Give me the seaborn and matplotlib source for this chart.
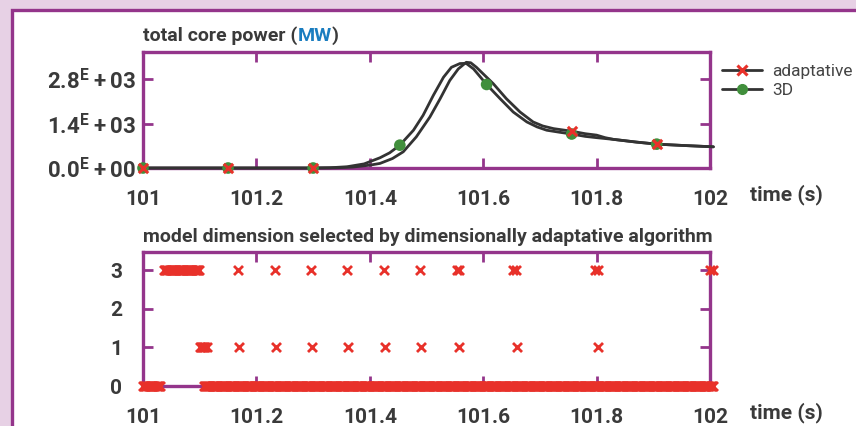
import numpy as np
import pandas as pd
import matplotlib
matplotlib.use("Agg")
import matplotlib.pyplot as plt
import seaborn as sns
from matplotlib.lines import Line2D
from matplotlib.patches import Rectangle
from matplotlib.offsetbox import TextArea, HPacker, AnchoredOffsetbox

# power curves (time in s, power in MW)
t_3d = [101.0, 101.15, 101.3, 101.33, 101.36, 101.39, 101.418, 101.435, 101.453, 101.477,
        101.494, 101.512, 101.530, 101.544, 101.559, 101.570, 101.583, 101.594, 101.606,
        101.630, 101.653, 101.677, 101.695, 101.712, 101.735, 101.756, 101.78, 101.80,
        101.83, 101.87, 101.906, 101.95, 102.006]
p_3d = [0, 0, 0, 8, 40, 130, 324, 480, 723, 1195,
        1667, 2296, 2872, 3187, 3305, 3310, 3134, 2900, 2643,
        2190, 1771, 1457, 1300, 1195, 1130, 1075, 1000, 960,
        905, 820, 755, 715, 670]

t_adapt = [101.0, 101.15, 101.3, 101.34, 101.37, 101.40, 101.418, 101.44, 101.459, 101.482,
           101.506, 101.524, 101.541, 101.556, 101.570, 101.578, 101.588, 101.594, 101.618,
           101.641, 101.665, 101.688, 101.705, 101.724, 101.756, 101.78, 101.80, 101.815,
           101.83, 101.87, 101.906, 101.95, 102.006]
p_adapt = [0, 0, 0, 6, 30, 90, 145, 300, 513, 985,
           1614, 2190, 2768, 3134, 3344, 3330, 3187, 3083, 2663,
           2190, 1771, 1457, 1330, 1246, 1164, 1085, 1040, 960,
           905, 820, 755, 715, 670]

mark_3d = [101.0, 101.15, 101.3, 101.453, 101.606, 101.756, 101.906]
mark_adapt = [101.0, 101.15, 101.3, 101.756, 101.906]

# dimension selected: dense runs (start, end, dim) on the time-step grid, plus isolated steps
dt = 0.002
runs = [(101.000, 101.030, 0), (101.037, 101.100, 3), (101.100, 101.112, 1), (101.107, 102.005, 0)]
spikes_3 = [101.168, 101.233, 101.296, 101.359, 101.425, 101.489, 101.553, 101.558,
            101.653, 101.658, 101.797, 101.802, 102.000, 102.005]
spikes_1 = [101.170, 101.235, 101.298, 101.362, 101.426, 101.490, 101.558, 101.659, 101.803]

x_ticks = [101, 101.2, 101.4, 101.6, 101.8, 102]
x_labels = ["101", "101.2", "101.4", "101.6", "101.8", "102"]
p_ticks = [0, 1400, 2800]
p_labels = ["0.0$^{\\mathrm{E}}$\u2009+\u200900", "1.4$^{\\mathrm{E}}$\u2009+\u200903",
            "2.8$^{\\mathrm{E}}$\u2009+\u200903"]
d_ticks = [0, 1, 2, 3]

PURPLE = "#94358b"
LAVENDER = "#e7d1e5"
TXT = "#3a3a3a"
LINE = "#333333"
RED = "#e8312a"
GREEN = "#418f3c"
BLUE = "#1a7dc0"

sns.set_style("white")
plt.rcParams["font.family"] = ["Roboto", "DejaVu Sans"]
plt.rcParams["font.weight"] = "bold"
plt.rcParams["mathtext.fontset"] = "custom"
plt.rcParams["mathtext.rm"] = "Roboto:bold"
plt.rcParams["mathtext.it"] = "Roboto:bold"
plt.rcParams["mathtext.bf"] = "Roboto:bold"

fig = plt.figure(figsize=(8.56, 4.26), dpi=100, facecolor=LAVENDER)
# white panel with purple border, running off the right and bottom edges
fig.patches.append(Rectangle((11.5 / 856, -0.2), 1.2, 0.2 + (426 - 9.5) / 426,
                             transform=fig.transFigure, facecolor="white",
                             edgecolor=PURPLE, lw=2.4, zorder=-10))

ax1 = fig.add_axes([143 / 856, 1 - 168 / 426, 567 / 856, 116 / 426])
ax2 = fig.add_axes([143 / 856, 1 - 386 / 426, 567 / 856, 134 / 426])


def style_axes(ax, ypad):
    for s in ax.spines.values():
        s.set_visible(True)
        s.set_color(PURPLE)
        s.set_linewidth(2.4)
    ax.set_facecolor("white")
    ax.tick_params(axis="both", which="major", direction="in", length=7, width=2,
                   color=PURPLE, labelcolor=TXT, labelsize=15,
                   top=True, right=True, bottom=True, left=True)
    ax.tick_params(axis="x", pad=15.5)
    ax.tick_params(axis="y", pad=ypad)
    ax.set_xlim(101, 102)
    ax.set_xticks(x_ticks)
    ax.set_xticklabels(x_labels)
    ax.set_xlabel("")
    ax.set_ylabel("")


# top panel: total core power
df_3d = pd.DataFrame({"t": t_3d, "p": p_3d})
df_ad = pd.DataFrame({"t": t_adapt, "p": p_adapt})
sns.lineplot(data=df_3d, x="t", y="p", ax=ax1, color=LINE, lw=2, zorder=3, clip_on=False)
sns.lineplot(data=df_ad, x="t", y="p", ax=ax1, color=LINE, lw=2, zorder=3, clip_on=False)
m3 = df_3d[df_3d["t"].isin(mark_3d)]
ma = df_ad[df_ad["t"].isin(mark_adapt)]
sns.scatterplot(data=m3, x="t", y="p", ax=ax1, color=GREEN, s=70, edgecolor="none",
                zorder=4, clip_on=False)
sns.scatterplot(data=ma, x="t", y="p", ax=ax1, color=RED, marker="x", s=45,
                linewidth=2.2, zorder=5, clip_on=False)
style_axes(ax1, 5)
ax1.set_ylim(0, 3670)
ax1.set_yticks(p_ticks)
ax1.set_yticklabels(p_labels)
ax1.tick_params(axis="y", labelsize=16)

title_box = HPacker(children=[
    TextArea("total core power (", textprops=dict(color=TXT, size=14, weight="bold")),
    TextArea("MW", textprops=dict(color=BLUE, size=14, weight="bold")),
    TextArea(")", textprops=dict(color=TXT, size=14, weight="bold")),
], align="baseline", pad=0, sep=0)
ax1.add_artist(AnchoredOffsetbox(loc="lower left", child=title_box, pad=0, borderpad=0,
                                 frameon=False, bbox_to_anchor=(0, 1.06),
                                 bbox_transform=ax1.transAxes))

handles = [Line2D([], [], color=LINE, lw=2, marker="x", markersize=7, mec=RED, mew=2.2),
           Line2D([], [], color=LINE, lw=2, marker="o", markersize=7, mfc=GREEN, mec=GREEN)]
leg = ax1.legend(handles, ["adaptative", "3D"], loc="upper left", bbox_to_anchor=(0.996, 1.015),
                 frameon=False, handlelength=2.3, handletextpad=0.6, labelspacing=0.2,
                 borderaxespad=0.4, prop=dict(size=12.5, weight="normal"))
for txt in leg.get_texts():
    txt.set_color("#444444")

# bottom panel: model dimension
rows = []
for start, end, dim in runs:
    for t in np.arange(start, end + dt / 2, dt):
        rows.append((t, dim))
rows += [(t, 3) for t in spikes_3] + [(t, 1) for t in spikes_1]
df_dim = pd.DataFrame(rows, columns=["t", "dim"])
sns.scatterplot(data=df_dim, x="t", y="dim", ax=ax2, color=RED, marker="x", s=42,
                linewidth=2, zorder=5, clip_on=False)
style_axes(ax2, 15)
ax2.set_ylim(0, 3.47)
ax2.set_yticks(d_ticks)
ax2.set_yticklabels([str(d) for d in d_ticks])
ax2.set_title("model dimension selected by dimensionally adaptative algorithm", loc="left",
              fontsize=14, fontweight="bold", color=TXT, pad=7)

fig.text(750 / 856, 1 - 195 / 426, "time (s)", color=TXT, fontsize=15, fontweight="bold",
         va="center", ha="left")
fig.text(750 / 856, 1 - 413 / 426, "time (s)", color=TXT, fontsize=15, fontweight="bold",
         va="center", ha="left")

fig.savefig("out.png", dpi=100, facecolor=LAVENDER)
